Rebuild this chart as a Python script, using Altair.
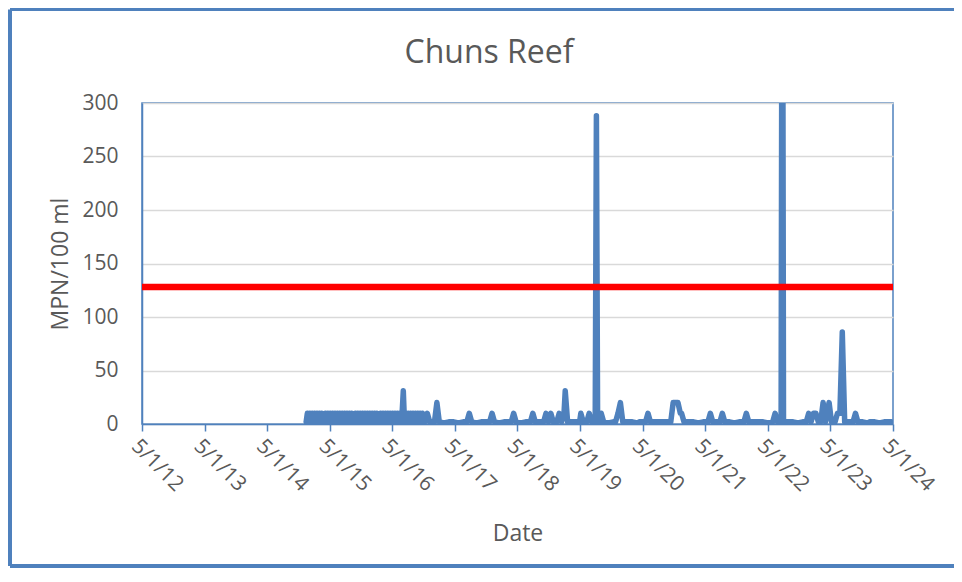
import altair as alt
import pandas as pd

# ---------------- text ----------------
chart_title = "Chuns Reef"
y_title = "MPN/100 ml"
x_title = "Date"

# ---------------- reference values ----------------
threshold = 128
y_ticks = [0, 50, 100, 150, 200, 250, 300]
tick_years = list(range(2012, 2025))  # ticks on 5/1 of each year

# ---------------- dense weekly sampling, Dec 2014 - Oct 2016 ----------------
weekly_start = "2014-12-22"
weekly_mpn = [10, 1, 10, 1, 10, 1, 10, 1, 10, 1, 10, 1, 10,
              1, 2,
              10, 1, 10, 1, 10, 1, 10, 1, 10, 1, 10, 1, 10, 1, 10, 1, 10, 1, 10, 1, 10, 1, 10,
              1, 2,
              10, 1, 10, 1, 10, 1, 10, 1, 10, 1, 10, 1, 10, 1, 10, 1, 10, 1, 10,
              2, 1,
              10, 1, 10, 1, 10, 1, 10, 1, 10, 1, 10, 1, 10, 1, 10, 1, 10, 1, 10,
              31,
              1,
              10, 1, 10, 1, 10, 1, 10, 1, 10, 1, 10, 1, 10, 1, 10]

# ---------------- later samples (date, MPN/100 ml) ----------------
s2014 = [("2014-12-15", 2)]
s2016 = [("2016-11-07", 2), ("2016-11-21", 10), ("2016-12-05", 2), ("2016-12-19", 2)]
s2017 = [("2017-01-02", 2), ("2017-01-16", 20), ("2017-01-30", 2), ("2017-02-27", 1),
         ("2017-03-27", 2), ("2017-04-24", 2), ("2017-05-22", 1), ("2017-06-19", 2),
         ("2017-07-10", 2), ("2017-07-24", 10), ("2017-08-07", 2), ("2017-09-04", 1),
         ("2017-10-02", 2), ("2017-10-30", 2), ("2017-11-20", 2), ("2017-12-04", 10),
         ("2017-12-18", 2)]
s2018 = [("2018-01-15", 1), ("2018-02-12", 2), ("2018-03-12", 2), ("2018-03-26", 2),
         ("2018-04-09", 10), ("2018-04-23", 2), ("2018-05-21", 1), ("2018-06-18", 2),
         ("2018-07-16", 2), ("2018-07-30", 10), ("2018-08-13", 2), ("2018-09-10", 2),
         ("2018-10-01", 2), ("2018-10-15", 10), ("2018-10-29", 2), ("2018-11-12", 10),
         ("2018-11-26", 2), ("2018-12-17", 2), ("2018-12-31", 10)]
s2019 = [("2019-01-14", 2), ("2019-01-28", 10), ("2019-02-04", 31), ("2019-02-18", 2),
         ("2019-03-18", 2), ("2019-04-15", 2), ("2019-04-29", 2), ("2019-05-06", 10),
         ("2019-05-20", 2), ("2019-06-10", 2), ("2019-06-24", 10), ("2019-07-08", 2),
         ("2019-07-29", 2), ("2019-08-05", 288), ("2019-08-12", 2), ("2019-08-26", 2),
         ("2019-09-02", 10), ("2019-09-16", 2), ("2019-10-14", 1), ("2019-11-11", 2),
         ("2019-11-25", 2), ("2019-12-09", 10), ("2019-12-23", 20)]
s2020 = [("2020-01-06", 2), ("2020-02-03", 2), ("2020-03-02", 2), ("2020-03-30", 1),
         ("2020-04-13", 2), ("2020-05-18", 2), ("2020-06-01", 10), ("2020-06-15", 2),
         ("2020-07-13", 2), ("2020-08-10", 2), ("2020-09-07", 2), ("2020-10-12", 2),
         ("2020-10-26", 20), ("2020-11-09", 20), ("2020-11-23", 20), ("2020-12-07", 10),
         ("2020-12-14", 10), ("2020-12-28", 2)]
s2021 = [("2021-01-25", 2), ("2021-02-22", 2), ("2021-03-22", 1), ("2021-04-19", 2),
         ("2021-05-17", 2), ("2021-05-31", 10), ("2021-06-14", 2), ("2021-07-12", 2),
         ("2021-07-26", 2), ("2021-08-09", 10), ("2021-08-23", 2), ("2021-09-20", 2),
         ("2021-10-18", 1), ("2021-11-15", 2), ("2021-12-13", 2), ("2021-12-27", 10)]
s2022 = [("2022-01-10", 2), ("2022-02-07", 2), ("2022-03-07", 2), ("2022-04-04", 2),
         ("2022-05-02", 1), ("2022-05-30", 2), ("2022-06-13", 10), ("2022-06-27", 2),
         ("2022-07-18", 2), ("2022-07-25", 650), ("2022-08-01", 2), ("2022-08-29", 2),
         ("2022-09-26", 2), ("2022-10-24", 1), ("2022-11-21", 2), ("2022-12-12", 2),
         ("2022-12-26", 10)]
s2023 = [("2023-01-09", 2), ("2023-01-23", 10), ("2023-02-06", 10), ("2023-02-20", 2),
         ("2023-03-06", 2), ("2023-03-20", 20), ("2023-04-03", 2), ("2023-04-24", 20),
         ("2023-05-08", 2), ("2023-05-29", 2), ("2023-06-12", 10), ("2023-06-26", 10),
         ("2023-07-10", 86), ("2023-07-24", 2), ("2023-08-21", 2), ("2023-09-11", 2),
         ("2023-09-25", 10), ("2023-10-09", 2), ("2023-11-06", 2), ("2023-12-04", 1),
         ("2023-12-18", 2)]
s2024 = [("2024-01-15", 2), ("2024-02-12", 1), ("2024-03-11", 2), ("2024-04-08", 2),
         ("2024-04-22", 2)]

t0 = pd.Timestamp(weekly_start)
weekly = [((t0 + pd.Timedelta(weeks=i)).strftime("%Y-%m-%d"), v) for i, v in enumerate(weekly_mpn)]

samples = s2014 + weekly + s2016 + s2017 + s2018 + s2019 + s2020 + s2021 + s2022 + s2023 + s2024
df = pd.DataFrame(samples, columns=["date", "mpn"])


def ms(day):
    return int(pd.Timestamp(day, tz="UTC").value // 10**6)


x_ticks = [ms(f"{y}-05-01") for y in tick_years]
x_domain = [x_ticks[0], x_ticks[-1]]

# ---------------- style ----------------
BLUE = "#4f81bd"
GREY_TXT = "#595959"
FONT = "Open Sans"

# layout (svg pixels); plot area is 751 x 321
PAD_L, PAD_T, PAD_R, PAD_B = 134, 95, 61, 144
W, H = 751, 321
TOTAL_W = PAD_L + W + PAD_R
TOTAL_H = PAD_T + H + PAD_B

line = alt.Chart(df).mark_line(
    color=BLUE, strokeWidth=5.5, strokeCap="round", strokeJoin="round", clip=True
).encode(
    x=alt.X(
        "date:T",
        scale=alt.Scale(type="utc", domain=x_domain),
        axis=alt.Axis(
            title=x_title,
            values=x_ticks,
            format="%-m/%-d/%y",
            labelAngle=45,
            labelFontSize=21,
            labelColor=GREY_TXT,
            labelPadding=4,
            labelOverlap=False,
            labelFlush=False,
            tickColor=BLUE,
            tickWidth=1.5,
            tickSize=7,
            domainColor=BLUE,
            domainWidth=1.5,
            grid=False,
            titleFontSize=23,
            titleColor=GREY_TXT,
            titleFontWeight="normal",
            titlePadding=28,
        ),
    ),
    y=alt.Y(
        "mpn:Q",
        scale=alt.Scale(domain=[0, 300], nice=False),
        axis=alt.Axis(
            title=y_title,
            values=y_ticks,
            labelFontSize=21,
            labelColor=GREY_TXT,
            labelPadding=24,
            ticks=False,
            domainColor=BLUE,
            domainWidth=1.5,
            grid=True,
            gridColor="#d9d9d9",
            gridWidth=1.5,
            titleFontSize=23,
            titleColor=GREY_TXT,
            titleFontWeight="normal",
            titlePadding=9,
        ),
    ),
)

limit = alt.Chart(pd.DataFrame({"mpn": [threshold]})).mark_rule(
    color="#ff0000", strokeWidth=6.5
).encode(y="mpn:Q")

one = pd.DataFrame({"k": [0]})
frame_left = alt.Chart(one).mark_rule(color=BLUE, strokeWidth=4).encode(
    x=alt.value(-PAD_L + 2), y=alt.value(-PAD_T + 1.5), y2=alt.value(TOTAL_H - PAD_T - 2)
)
frame_top = alt.Chart(one).mark_rule(color=BLUE, strokeWidth=3).encode(
    x=alt.value(-PAD_L + 2), x2=alt.value(TOTAL_W - PAD_L), y=alt.value(-PAD_T + 1.5)
)
frame_bottom = alt.Chart(one).mark_rule(color=BLUE, strokeWidth=4).encode(
    x=alt.value(-PAD_L + 2), x2=alt.value(TOTAL_W - PAD_L), y=alt.value(TOTAL_H - PAD_T - 2)
)

# chart title drawn as a text mark above the plot (centred on the whole chart)
title_mark = alt.Chart(one).mark_text(
    text=chart_title, fontSize=32, color=GREY_TXT, font=FONT,
    align="center", baseline="alphabetic"
).encode(x=alt.value(347), y=alt.value(-40))

chart = alt.layer(line, limit, frame_left, frame_top, frame_bottom, title_mark).properties(
    width=W,
    height=H,
    autosize=alt.AutoSizeParams(type="none"),
    padding={"left": PAD_L, "top": PAD_T, "right": PAD_R, "bottom": PAD_B},
).configure(
    font=FONT,
    background="white",
).configure_view(
    stroke=BLUE, strokeWidth=1.5
)

chart.save("out.html", embed_options={"renderer": "svg", "actions": False})
